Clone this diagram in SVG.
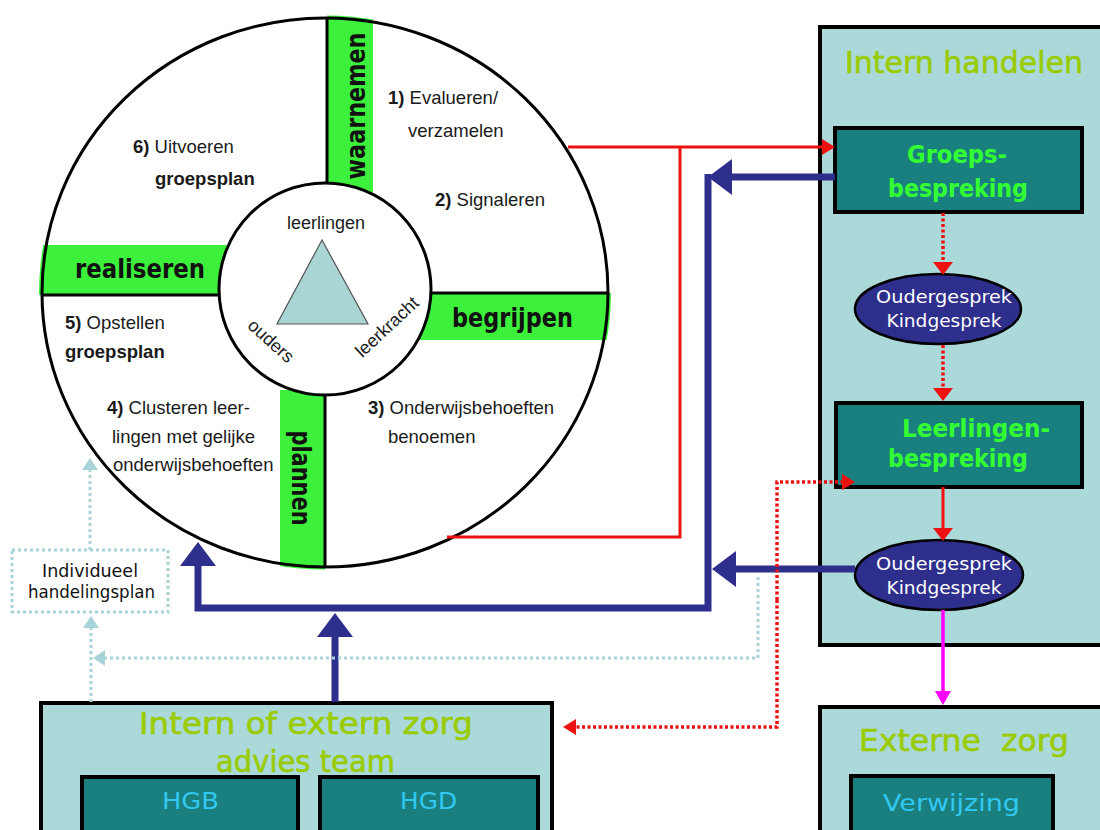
<svg xmlns="http://www.w3.org/2000/svg" width="1100" height="830" viewBox="0 0 1100 830">
<style>
.comic{font-family:"DejaVu Sans","Liberation Sans",sans-serif}
.title{font-family:"DejaVu Sans",sans-serif;font-size:31px;fill:#99cc00;stroke:#99cc00;stroke-width:0.6}
.boxlbl{font-family:"DejaVu Sans",sans-serif;font-weight:bold;font-size:25px;fill:#33ff33}
.hg{font-family:"DejaVu Sans",sans-serif;font-size:23px;fill:#33c8f0}
.ell{font-family:"DejaVu Sans",sans-serif;font-size:17.5px;fill:#ffffff}
.step{font-family:"Liberation Sans",Arial,sans-serif;font-size:18.5px;fill:#1a1a1a}
.b{font-weight:bold}
.phase{font-family:"DejaVu Sans",sans-serif;font-weight:bold;font-size:26px;fill:#111111}
.inner{font-family:"Liberation Sans",Arial,sans-serif;font-size:18px;fill:#1a1a1a}
.panel{fill:#abd8d8;stroke:#000;stroke-width:4}
.dbox{fill:#1a7f7f;stroke:#000;stroke-width:4}
.oval{fill:#2e2e8c;stroke:#000;stroke-width:2.5}
.green{fill:#3cf03c}
.red{fill:none;stroke:#ee1111;stroke-width:3}
.reddot{fill:none;stroke:#ee1111;stroke-width:3.5;stroke-dasharray:3 2.5}
.blue{fill:none;stroke:#2e2e8c;stroke-width:7;stroke-linejoin:miter}
.lb{fill:none;stroke:#a7d3d9;stroke-width:3;stroke-dasharray:3 3}
.mag{fill:none;stroke:#ff00ff;stroke-width:3.5}
</style>
<defs>
<clipPath id="outerClip"><ellipse cx="325" cy="292.5" rx="286" ry="277"/></clipPath>
<marker id="aBlue" markerUnits="userSpaceOnUse" viewBox="0 0 24 36" markerWidth="24" markerHeight="36" refX="1" refY="18" orient="auto"><path d="M0,0 L24,18 L0,36 z" fill="#2e2e8c"/></marker>
<marker id="aRed" markerUnits="userSpaceOnUse" viewBox="0 0 13 16" markerWidth="13" markerHeight="16" refX="1" refY="8" orient="auto"><path d="M0,0 L13,8 L0,16 z" fill="#ee1111"/></marker>
<marker id="aRedW" markerUnits="userSpaceOnUse" viewBox="0 0 13 20" markerWidth="13" markerHeight="20" refX="1" refY="10" orient="auto"><path d="M0,0 L13,10 L0,20 z" fill="#ee1111"/></marker>
<marker id="aMag" markerUnits="userSpaceOnUse" viewBox="0 0 14 16" markerWidth="14" markerHeight="16" refX="1" refY="8" orient="auto"><path d="M0,0 L14,8 L0,16 z" fill="#ff00ff"/></marker>
<marker id="aLb" markerUnits="userSpaceOnUse" viewBox="0 0 12 16" markerWidth="12" markerHeight="16" refX="1" refY="8" orient="auto"><path d="M0,0 L12,8 L0,16 z" fill="#a7d3d9"/></marker>
</defs>
<rect width="1100" height="830" fill="#ffffff"/>

<g id="cycle">
<ellipse cx="325" cy="292.5" rx="283" ry="274.5" fill="#ffffff"/>
<g clip-path="url(#outerClip)">
<rect class="green" x="327" y="15" width="46" height="180"/>
<rect class="green" x="38" y="245" width="192" height="50"/>
<rect class="green" x="420" y="293" width="195" height="47"/>
<rect class="green" x="280" y="390" width="45" height="182"/>
</g>
<path d="M327,18 V185 M42,295 H220 M432,293 H609 M325,393 V567" stroke="#000" stroke-width="3" fill="none"/>
<ellipse cx="325" cy="292.5" rx="283" ry="274.5" fill="none" stroke="#000" stroke-width="3"/>
<circle cx="325" cy="289" r="106" fill="#ffffff" stroke="#000" stroke-width="3"/>
<polygon points="322,240 277,324 368,324" fill="#a9d5d5" stroke="#555" stroke-width="1.2"/>
<text class="inner" x="326" y="229" text-anchor="middle">leerlingen</text>
<text class="inner" transform="translate(271,341) rotate(42)" y="6" text-anchor="middle">ouders</text>
<text class="inner" transform="translate(387,327) rotate(-43)" y="6" text-anchor="middle">leerkracht</text>
<text class="phase" x="75" y="278" textLength="130" lengthAdjust="spacingAndGlyphs">realiseren</text>
<text class="phase" x="452" y="327" textLength="121" lengthAdjust="spacingAndGlyphs">begrijpen</text>
<text class="phase" transform="translate(365,106) rotate(-90)" text-anchor="middle" textLength="147" lengthAdjust="spacingAndGlyphs">waarnemen</text>
<text class="phase" transform="translate(292,478) rotate(90)" text-anchor="middle" textLength="95" lengthAdjust="spacingAndGlyphs">plannen</text>
<text class="step" x="388" y="104"><tspan class="b">1)</tspan> Evalueren/</text>
<text class="step" x="408" y="137">verzamelen</text>
<text class="step" x="435" y="206"><tspan class="b">2)</tspan> Signaleren</text>
<text class="step" x="133" y="153"><tspan class="b">6)</tspan> Uitvoeren</text>
<text class="step b" x="155" y="185">groepsplan</text>
<text class="step" x="65" y="329"><tspan class="b">5)</tspan> Opstellen</text>
<text class="step b" x="65" y="358">groepsplan</text>
<text class="step" x="107" y="414"><tspan class="b">4)</tspan> Clusteren leer-</text>
<text class="step" x="112" y="443">lingen met gelijke</text>
<text class="step" x="113" y="471">onderwijsbehoeften</text>
<text class="step" x="368" y="414"><tspan class="b">3)</tspan> Onderwijsbehoeften</text>
<text class="step" x="388" y="443">benoemen</text>
</g>

<g id="intern-handelen">
<rect class="panel" x="820" y="27" width="290" height="618"/>
<text class="title" x="845" y="73" textLength="238" lengthAdjust="spacingAndGlyphs">Intern handelen</text>
</g>

<g id="groepsbespreking">
<rect class="dbox" x="835" y="128" width="247" height="84"/>
<text class="boxlbl" x="907" y="163" textLength="100" lengthAdjust="spacingAndGlyphs">Groeps-</text>
<text class="boxlbl" x="888" y="197" textLength="140" lengthAdjust="spacingAndGlyphs">bespreking</text>
</g>

<g id="gesprek1">
<ellipse class="oval" cx="938" cy="309" rx="83" ry="35"/>
<text class="ell" x="944" y="303" text-anchor="middle" textLength="136" lengthAdjust="spacingAndGlyphs">Oudergesprek</text>
<text class="ell" x="944" y="327" text-anchor="middle" textLength="115" lengthAdjust="spacingAndGlyphs">Kindgesprek</text>
</g>

<g id="leerlingenbespreking">
<rect class="dbox" x="836" y="403" width="246" height="84"/>
<text class="boxlbl" x="902" y="437" textLength="148" lengthAdjust="spacingAndGlyphs">Leerlingen-</text>
<text class="boxlbl" x="888" y="467" textLength="140" lengthAdjust="spacingAndGlyphs">bespreking</text>
</g>

<g id="gesprek2">
<ellipse class="oval" cx="939" cy="575" rx="84" ry="35"/>
<text class="ell" x="944" y="570" text-anchor="middle" textLength="136" lengthAdjust="spacingAndGlyphs">Oudergesprek</text>
<text class="ell" x="944" y="594" text-anchor="middle" textLength="115" lengthAdjust="spacingAndGlyphs">Kindgesprek</text>
</g>

<g id="externe-zorg">
<rect class="panel" x="820" y="707" width="290" height="140"/>
<text class="title" x="859" y="751" textLength="210" lengthAdjust="spacingAndGlyphs" xml:space="preserve">Externe  zorg</text>
<rect class="dbox" x="851" y="776" width="202" height="60"/>
<text class="hg" x="883" y="811" font-size="26" textLength="137" lengthAdjust="spacingAndGlyphs">Verwijzing</text>
</g>

<g id="zorg-advies-team">
<rect class="panel" x="41" y="703" width="511" height="140"/>
<text class="title" x="139" y="734" textLength="334" lengthAdjust="spacingAndGlyphs">Intern of extern zorg</text>
<text class="title" x="216" y="772" textLength="179" lengthAdjust="spacingAndGlyphs">advies team</text>
<rect class="dbox" x="82" y="777" width="216" height="60"/>
<text class="hg" x="162" y="809" textLength="57" lengthAdjust="spacingAndGlyphs">HGB</text>
<rect class="dbox" x="320" y="777" width="218" height="60"/>
<text class="hg" x="400" y="809" textLength="57" lengthAdjust="spacingAndGlyphs">HGD</text>
</g>

<g id="individueel-handelingsplan">
<rect class="lb" x="12" y="550" width="156" height="62"/>
<text class="comic" x="42" y="577" font-size="17" fill="#111" textLength="96" lengthAdjust="spacingAndGlyphs">Individueel</text>
<text class="comic" x="28" y="598" font-size="17" fill="#111" textLength="127" lengthAdjust="spacingAndGlyphs">handelingsplan</text>
</g>

<g id="connectors">
<path class="red" d="M568,147 H823" marker-end="url(#aRed)"/>
<path class="red" d="M680,147 V537 H447"/>
<path class="reddot" d="M943,213 V263" marker-end="url(#aRedW)"/>
<path class="reddot" d="M943,345 V389" marker-end="url(#aRedW)"/>
<path class="red" d="M943,487 V529" marker-end="url(#aRedW)"/>
<path class="mag" d="M943,610 V692" marker-end="url(#aMag)"/>
<path class="blue" d="M835,177 H731" marker-end="url(#aBlue)"/>
<path class="blue" d="M855,569 H735" marker-end="url(#aBlue)"/>
<path class="blue" d="M708,174 V608 H198 V565" marker-end="url(#aBlue)"/>
<path class="blue" d="M335,702 V636" marker-end="url(#aBlue)"/>
<path class="lb" d="M91,702 V627" marker-end="url(#aLb)"/>
<path class="lb" d="M758,577 V658 H104" marker-end="url(#aLb)"/>
<path class="lb" d="M90,550 V469" marker-end="url(#aLb)"/>
<path class="reddot" d="M777,600 V482 H843" marker-end="url(#aRed)"/>
<path class="reddot" d="M777,600 V727 H575" marker-end="url(#aRed)"/>
</g>
</svg>
